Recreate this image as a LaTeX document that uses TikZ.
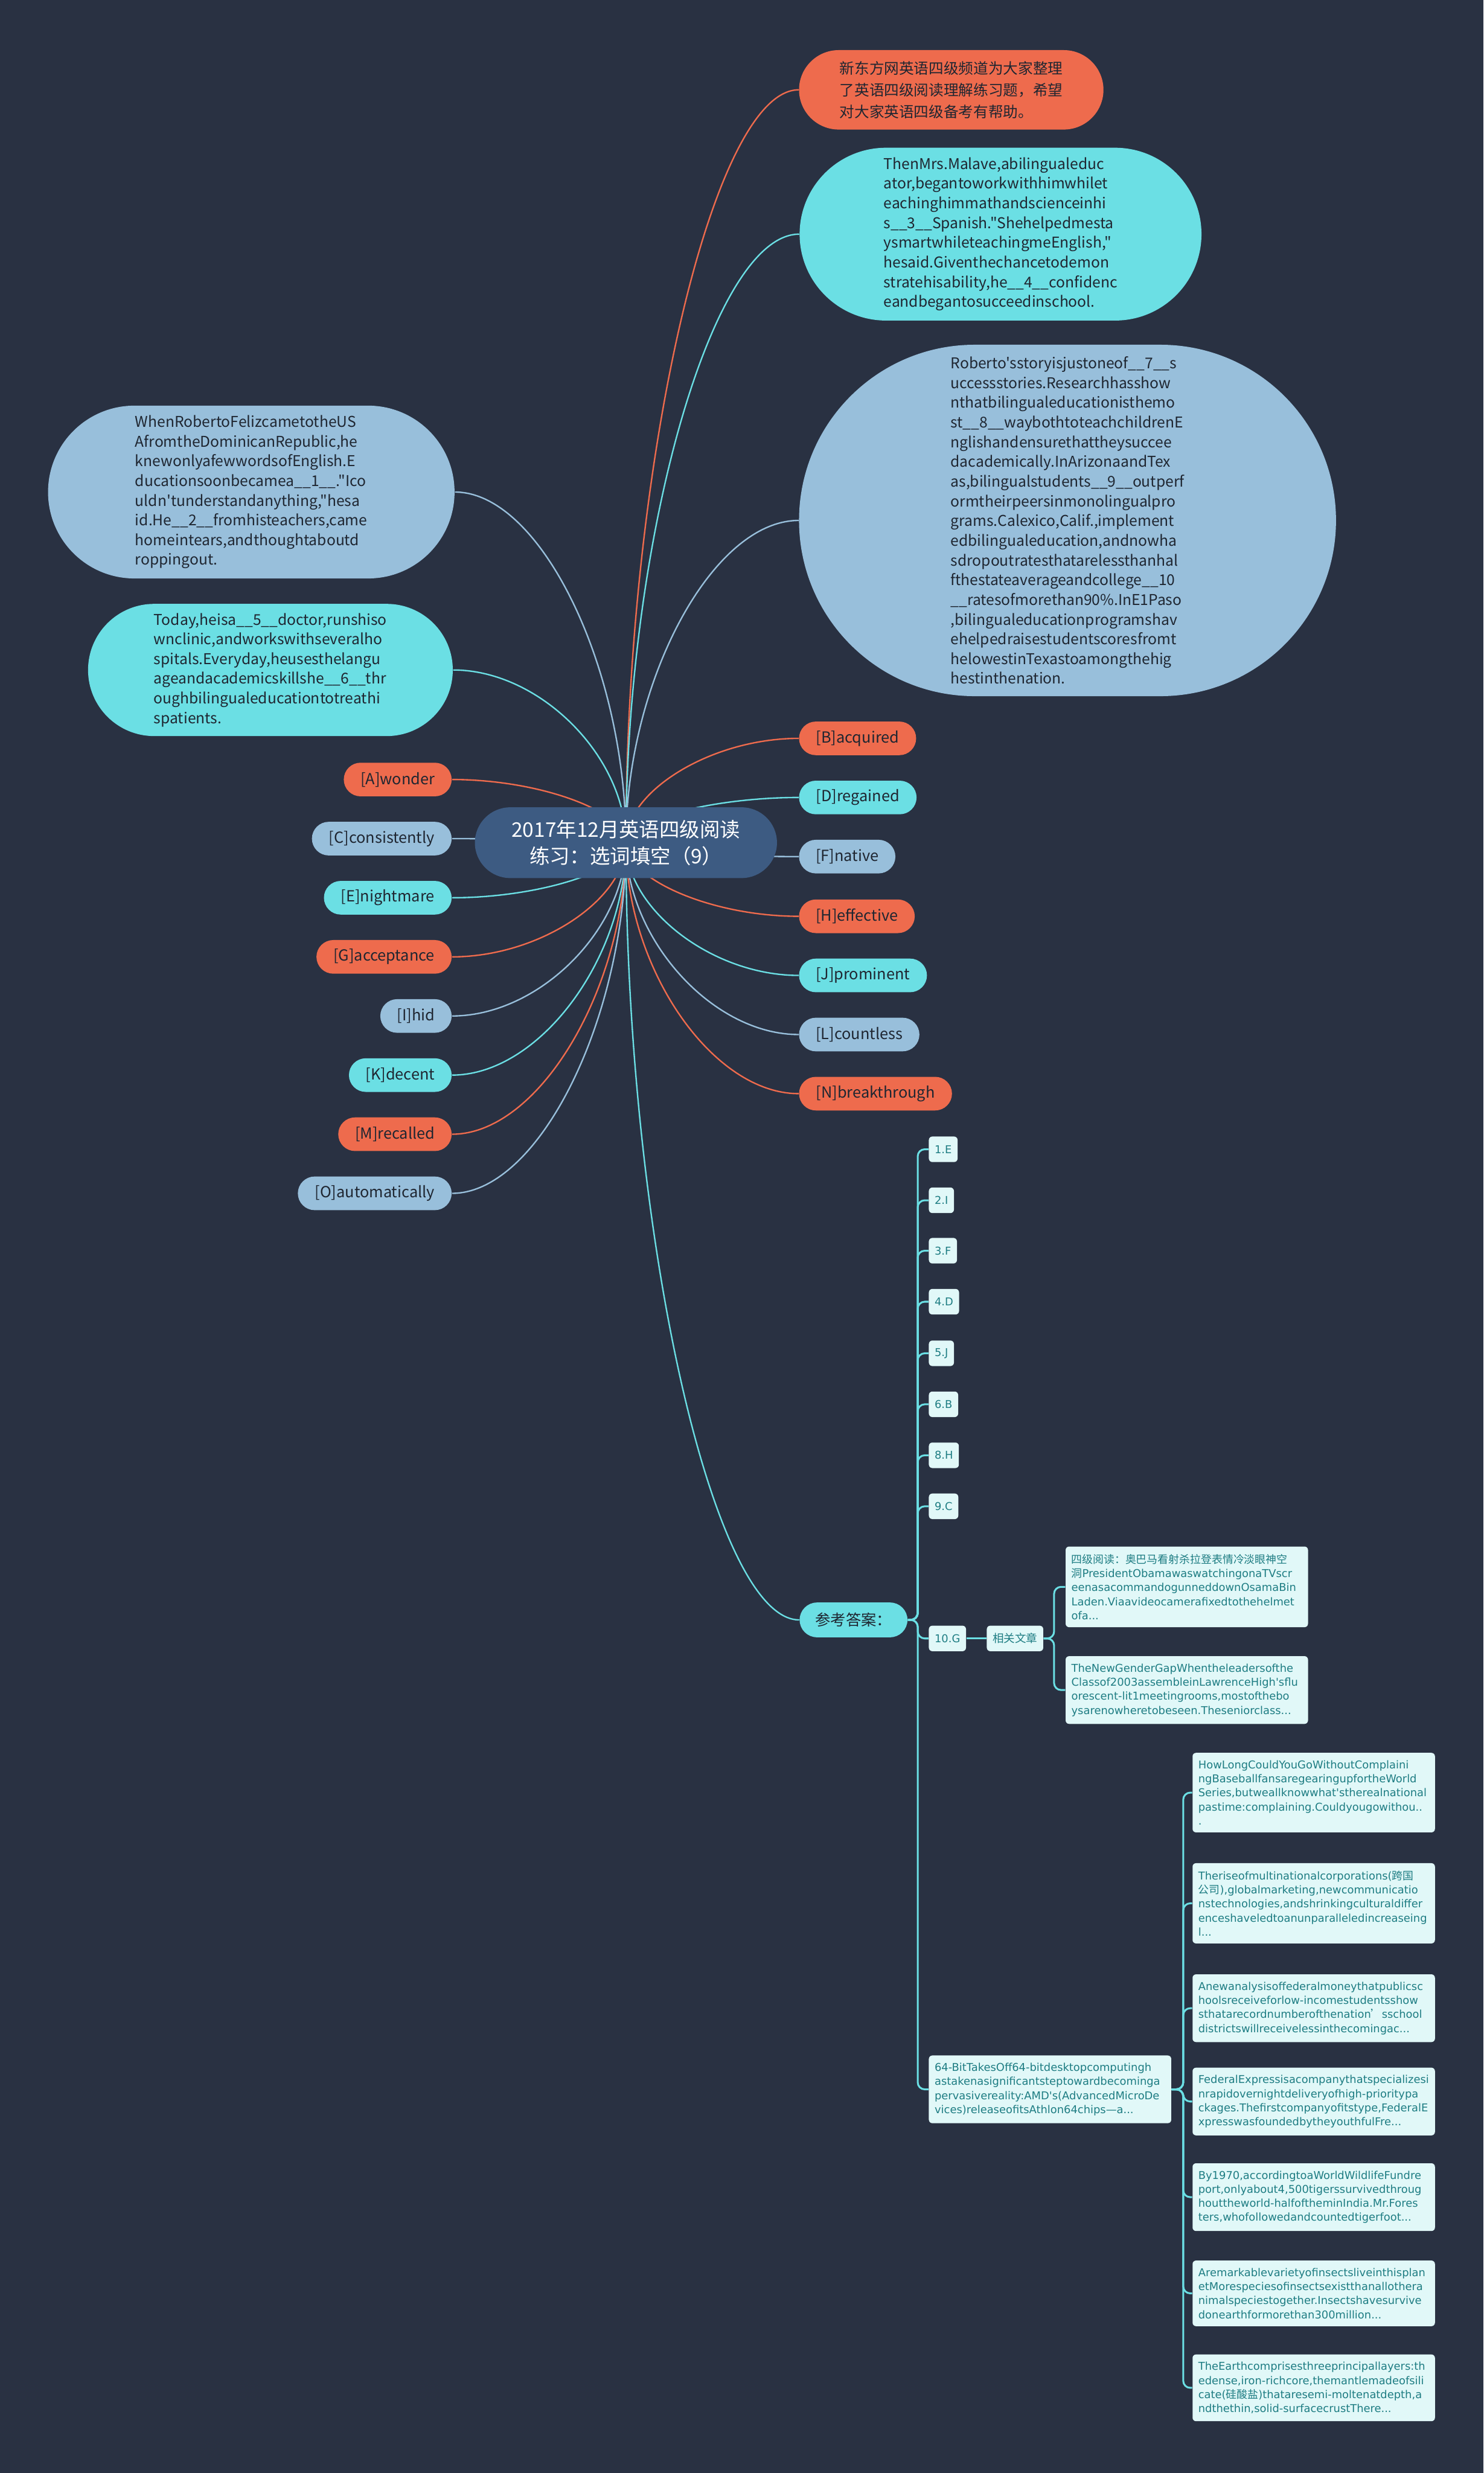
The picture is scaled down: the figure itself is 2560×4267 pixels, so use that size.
\documentclass[tikz,border=0pt]{standalone}
\usepackage{fontspec}
\newfontfamily\cjk{Noto Sans CJK SC}
\newfontfamily\boxfont{DejaVu Sans}
\usetikzlibrary{shapes.misc,calc}
\definecolor{bgc}{HTML}{293142}
\definecolor{org}{HTML}{EE6B4D}
\definecolor{cyn}{HTML}{6BDFE4}
\definecolor{lbl}{HTML}{98BFDB}
\definecolor{rootc}{HTML}{3D5B82}
\definecolor{ansf}{HTML}{E1F8F8}
\definecolor{anst}{HTML}{1E7D83}
\definecolor{ink}{HTML}{1F2631}
\tikzset{
  pill/.style={rounded rectangle,fill=#1,text=ink,inner xsep=0pt,inner ysep=0pt,align=left},
  word/.style={pill=#1,minimum height=0.58cm,inner xsep=0.26cm,font=\cjk\fontsize{7.5}{9}\selectfont},
  para/.style={pill=#1,font=\cjk\fontsize{7.3}{9.67}\selectfont},
  ans/.style={fill=ansf,text=anst,rounded corners=0.06cm,inner xsep=0.1cm,minimum height=0.44cm,font=\boxfont\fontsize{5.3}{6.9}\selectfont},
  art/.style={ans,text width=3.98cm,inner ysep=0.13cm,align=left,execute at begin node={\hyphenpenalty=10000\exhyphenpenalty=10000}},
  link/.style={line width=0.7pt,to path={.. controls ($(\tikztostart)!0.5!(\tikztostart |- \tikztotarget)$) and ($(\tikztotarget)!0.5!(\tikztostart |- \tikztotarget)$) .. (\tikztotarget)}},
  tree/.style={cyn,line width=0.9pt,rounded corners=0.12cm},
}

\begin{document}
\begin{tikzpicture}[x=0.01cm,y=-0.01cm]
\fill[bgc] (0,0) rectangle (2560,4267);
\coordinate (hub) at (1080,1454);
% passages
\node[para=org,anchor=west,minimum width=5.25cm,minimum height=1.37cm,font=\cjk\fontsize{7.3}{10.7}\selectfont] (tip) at (1378,155) {新东方网英语四级频道为大家整理\\了英语四级阅读理解练习题，希望\\对大家英语四级备考有帮助。};
\node[para=cyn,anchor=west,minimum width=6.93cm,minimum height=2.98cm] (mal) at (1379,404) {ThenMrs.Malave,abilingualeduc\\ator,begantoworkwithhimwhilet\\eachinghimmathandscienceinhi\\s\_\_3\_\_Spanish."Shehelpedmesta\\ysmartwhileteachingmeEnglish,"\\hesaid.Giventhechancetodemon\\stratehisability,he\_\_4\_\_confidenc\\eandbegantosucceedinschool.};
\node[para=lbl,anchor=west,minimum width=9.26cm,minimum height=6.06cm] (rob) at (1378,898) {Roberto'sstoryisjustoneof\_\_7\_\_s\\uccessstories.Researchhasshow\\nthatbilingualeducationisthemo\\st\_\_8\_\_waybothtoteachchildrenE\\nglishandensurethattheysuccee\\dacademically.InArizonaandTex\\as,bilingualstudents\_\_9\_\_outperf\\ormtheirpeersinmonolingualpro\\grams.Calexico,Calif.,implement\\edbilingualeducation,andnowha\\sdropoutratesthatarelessthanhal\\fthestateaverageandcollege\_\_10\\\_\_ratesofmorethan90\%.InE1Paso\\,bilingualeducationprogramshav\\ehelpedraisestudentscoresfromt\\helowestinTexastoamongthehig\\hestinthenation.};
\node[para=lbl,anchor=east,minimum width=7.01cm,minimum height=2.98cm] (when) at (785,849) {WhenRobertoFelizcametotheUS\\AfromtheDominicanRepublic,he\\knewonlyafewwordsofEnglish.E\\ducationsoonbecamea\_\_1\_\_."Ico\\uldn'tunderstandanything,"hesa\\id.He\_\_2\_\_fromhisteachers,came\\homeintears,andthoughtaboutd\\roppingout.};
\node[para=cyn,anchor=east,minimum width=6.29cm,minimum height=2.28cm] (today) at (782,1156) {Today,heisa\_\_5\_\_doctor,runshiso\\wnclinic,andworkswithseveralho\\spitals.Everyday,heusesthelangu\\ageandacademicskillshe\_\_6\_\_thr\\oughbilingualeducationtotreathi\\spatients.};
\foreach \n/\c in {tip.west/org,mal.west/cyn,rob.west/lbl,when.east/lbl,today.east/cyn}
  \draw[link,\c] (hub) to (\n);
% word options
\foreach \n/\t/\c/\y in {A/{[A]wonder}/org/1345,C/{[C]consistently}/lbl/1447,E/{[E]nightmare}/cyn/1549,G/{[G]acceptance}/org/1651,I/{[I]hid}/lbl/1753,K/{[K]decent}/cyn/1855,M/{[M]recalled}/org/1957,O/{[O]automatically}/lbl/2059}{
  \node[word=\c,anchor=east] (n\n) at (780,\y) {\t};
  \draw[link,\c] (hub) to (n\n.east);
}
\foreach \n/\t/\c/\y in {B/{[B]acquired}/org/1274,D/{[D]regained}/cyn/1376,F/{[F]native}/lbl/1478,H/{[H]effective}/org/1581,J/{[J]prominent}/cyn/1683,L/{[L]countless}/lbl/1785,N/{[N]breakthrough}/org/1887}{
  \node[word=\c,anchor=west] (n\n) at (1378,\y) {\t};
  \draw[link,\c] (hub) to (n\n.west);
}
% answers
\node[word=cyn,anchor=west,inner xsep=0pt,minimum width=1.86cm,minimum height=0.6cm] (ref) at (1379,2795) {参考答案：};
\draw[link,cyn] (hub) to (ref.west);
\foreach \i/\t/\y in {1/1.E/1983,2/2.I/2071,3/3.F/2158,4/4.D/2246,5/5.J/2335,6/6.B/2423,8/8.H/2511,9/9.C/2599,10/10.G/2827}{
  \node[ans,anchor=west] (a\i) at (1602,\y) {\t};
  \draw[tree] (ref.east) -- ++(17,0) |- (a\i.west);
}
\node[ans,anchor=west,font=\cjk\fontsize{5.5}{6.9}\selectfont] (rel) at (1702,2827) {相关文章};
\draw[tree] (a10) -- (rel);
\node[art,anchor=west] (art1) at (1838,2738) {{\cjk 四级阅读：奥巴马看射杀拉登表情冷淡眼神空}\\{\cjk 洞}PresidentObamawaswatchingonaTVscr\\eenasacommandogunneddownOsamaBin\\Laden.Viaavideocamerafixedtothehelmet\\ofa...};
\node[art,anchor=west] (art2) at (1838,2916) {TheNewGenderGapWhentheleadersofthe\\Classof2003assembleinLawrenceHigh'sflu\\orescent-lit1meetingrooms,mostofthebo\\ysarenowheretobeseen.Theseniorclass...};
\foreach \i in {1,2}
  \draw[tree] (rel.east) -- ++(18,0) |- (art\i.west);
\node[art,anchor=west] (b64) at (1602,3605) {64-BitTakesOff64-bitdesktopcomputingh\\astakenasignificantsteptowardbecominga\\pervasivereality:AMD's(AdvancedMicroDe\\vices)releaseofitsAthlon64chips—a...};
\draw[tree] (ref.east) -- ++(17,0) |- (b64.west);
\node[art,anchor=west] (p1) at (2057,3093) {HowLongCouldYouGoWithoutComplaini\\ngBaseballfansaregearingupfortheWorld\\Series,butweallknowwhat'stherealnational\\pastime:complaining.Couldyougowithou..\\.};
\node[art,anchor=west] (p2) at (2057,3284) {Theriseofmultinationalcorporations({\cjk 跨国}\\{\cjk 公司}),globalmarketing,newcommunicatio\\nstechnologies,andshrinkingculturaldiffer\\enceshaveledtoanunparalleledincreaseing\\l...};
\node[art,anchor=west] (p3) at (2057,3465) {Anewanalysisoffederalmoneythatpublicsc\\hoolsreceiveforlow-incomestudentsshow\\sthatarecordnumberofthenation{\cjk ’}sschool\\districtswillreceivelessinthecomingac...};
\node[art,anchor=west] (p4) at (2057,3626) {FederalExpressisacompanythatspecializesi\\nrapidovernightdeliveryofhigh-prioritypa\\ckages.Thefirstcompanyofitstype,FederalE\\xpresswasfoundedbytheyouthfulFre...};
\node[art,anchor=west] (p5) at (2057,3791) {By1970,accordingtoaWorldWildlifeFundre\\port,onlyabout4,500tigerssurvivedthroug\\houttheworld-halfoftheminIndia.Mr.Fores\\ters,whofollowedandcountedtigerfoot...};
\node[art,anchor=west] (p6) at (2057,3957) {Aremarkablevarietyofinsectsliveinthisplan\\etMorespeciesofinsectsexistthanallothera\\nimalspeciestogether.Insectshavesurvive\\donearthformorethan300million...};
\node[art,anchor=west] (p7) at (2057,4120) {TheEarthcomprisesthreeprincipallayers:th\\edense,iron-richcore,themantlemadeofsili\\cate({\cjk 硅酸盐})thataresemi-moltenatdepth,a\\ndthethin,solid-surfacecrustThere...};
\foreach \i in {1,...,7}
  \draw[tree] (b64.east) -- ++(20,0) |- (p\i.west);
% root on top of the links
\node[pill=rootc,text=white,align=center,minimum width=5.21cm,minimum height=1.22cm,font=\cjk\fontsize{9.9}{13}\selectfont] (root) at (hub) {2017年12月英语四级阅读\\练习：选词填空（9）};
\end{tikzpicture}
\end{document}
